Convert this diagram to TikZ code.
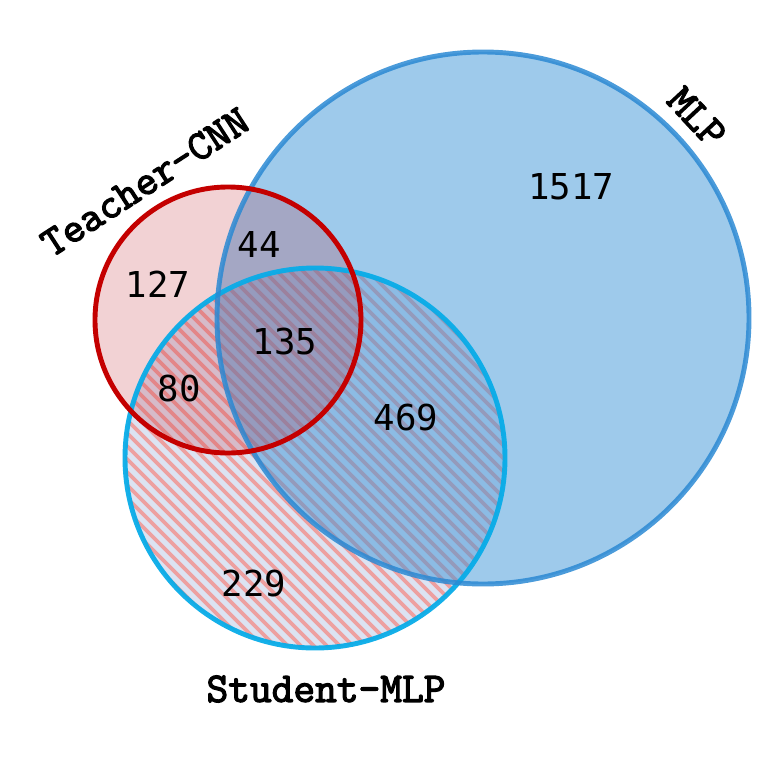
\documentclass[tikz,border=0pt]{standalone}
\usepackage{fontspec}
\newfontfamily\countfont{DejaVu Sans Mono}
\newfontfamily\vennfont{Latin Modern Mono}[AutoFakeBold=3]
\usetikzlibrary{positioning}

\definecolor{mlpblue}{RGB}{61,149,215}
\definecolor{mlpedge}{RGB}{43,137,211}
\definecolor{teachred}{RGB}{190,30,40}
\definecolor{teachedge}{RGB}{196,0,0}
\definecolor{studcyan}{RGB}{8,172,232}
\definecolor{studbase}{RGB}{220,227,242}
\definecolor{studhatch}{RGB}{237,160,160}

\tikzset{
  count/.style={font=\countfont\fontsize{20.3}{21}\selectfont},
  setname/.style={font=\vennfont\bfseries\fontsize{24}{25}\selectfont},
}

\begin{document}
\begin{tikzpicture}[x=0.02cm, y=-0.02cm, line width=2.8pt]
    \useasboundingbox (0,0) rectangle (761,761);

    % Circle centres
    \coordinate (teacher) at (228,320);
    \coordinate (mlp) at (483,318);
    \coordinate (student) at (315,458);

    % Student-MLP set: pale base with red hatching
    \fill[studbase] (student) circle (190);
    \begin{scope}
        \clip (student) circle (190);
        \foreach \a in {-800,-787,...,800}
            \draw[studhatch, line width=2.1pt] (\a,0) -- ++(800,800);
    \end{scope}

    % MLP set and Teacher-CNN set (translucent fills)
    \fill[mlpblue, fill opacity=0.5] (mlp) circle (266);
    \fill[teachred, fill opacity=0.2] (teacher) circle (133);

    % Outlines
    \draw[studcyan, draw opacity=0.95] (student) circle (190);
    \draw[mlpedge, draw opacity=0.85] (mlp) circle (266);
    \draw[teachedge] (teacher) circle (133);

    % Region counts
    \node[count] (n1517) at (571,187) {1517};
    \node[count] (n44) at (259,244) {44};
    \node[count] (n127) at (158,284) {127};
    \node[count] (n135) at (285,342) {135};
    \node[count] (n80) at (179,389) {80};
    \node[count] (n469) at (406,418) {469};
    \node[count] (n229) at (254,584) {229};

    % Set names
    \node[setname, rotate=33] (tcnn) at (145,182) {Teacher-CNN};
    \node[setname, rotate=-47] (lmlp) at (697,117) {MLP};
    \node[setname] (smlp) at (326,689) {Student-MLP};

\end{tikzpicture}
\end{document}
